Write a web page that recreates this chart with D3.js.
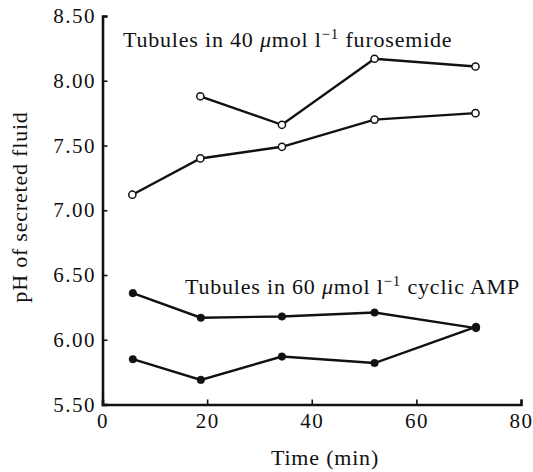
<!DOCTYPE html>
<html><head><meta charset="utf-8">
<script src="https://cdn.jsdelivr.net/npm/d3@7"></script>
<style>body{margin:0;background:#fff}svg{display:block}</style>
</head><body><svg id="c" width="533" height="472"></svg>
<script>
const furoTime1 = [18.7, 34.3, 52, 71.3];
const furoPH1   = [7.88, 7.66, 8.17, 8.11];
const furoTime2 = [5.7, 18.7, 34.3, 52, 71.3];
const furoPH2   = [7.12, 7.40, 7.49, 7.70, 7.75];
const campTime1 = [5.8, 18.8, 34.3, 52, 71.4];
const campPH1   = [6.36, 6.17, 6.18, 6.21, 6.09];
const campTime2 = [5.8, 18.8, 34.3, 52, 71.4];
const campPH2   = [5.85, 5.69, 5.87, 5.82, 6.10];
const yTicks = [5.5, 6.0, 6.5, 7.0, 7.5, 8.0, 8.5];
const xTicks = [0, 20, 40, 60, 80];

const FONT = "'Liberation Serif', 'Times New Roman', serif";
const svg = d3.select("#c");
const x = d3.scaleLinear().domain([0, 80]).range([102.5, 521]);
const y = d3.scaleLinear().domain([5.5, 8.5]).range([404.5, 16]);

const xAxis = d3.axisBottom(x).tickValues(xTicks).tickSize(-5).tickSizeOuter(-5).tickPadding(9).tickFormat(d3.format("d"));
const yAxis = d3.axisLeft(y).tickValues(yTicks).tickSize(-5).tickSizeOuter(-5).tickPadding(5).tickFormat(d3.format(".2f"));

const gx = svg.append("g").attr("transform", `translate(0,${y(5.5)})`).call(xAxis);
const gy = svg.append("g").attr("transform", `translate(${x(0)},0)`).call(yAxis);
[gx, gy].forEach(g => {
  g.attr("font-family", FONT).attr("font-size", 21);
  g.select(".domain").attr("stroke", "#111").attr("stroke-width", 2.6);
  g.selectAll(".tick line").attr("stroke", "#111").attr("stroke-width", 1.6);
  g.selectAll(".tick text").attr("fill", "#111").style("letter-spacing", "1.5px");
});
gy.selectAll(".tick text").attr("dx", "-1.5px");

svg.append("text").attr("transform", `translate(27,207) rotate(-90)`)
  .attr("text-anchor", "middle").attr("font-family", FONT).attr("font-size", 22).attr("fill", "#111")
  .style("letter-spacing", "0.8px").text("pH of secreted fluid");
svg.append("text").attr("x", 325).attr("y", 465).attr("text-anchor", "middle")
  .attr("font-family", FONT).attr("font-size", 22).attr("fill", "#111").style("letter-spacing", "0.8px").text("Time (min)");

function label(x0, y0, num, rest) {
  const t = svg.append("text").attr("x", x0).attr("y", y0).attr("font-family", FONT)
    .attr("font-size", 22).attr("fill", "#111").style("letter-spacing", "0.8px");
  t.append("tspan").text("Tubules in " + num + " ");
  t.append("tspan").attr("font-style", "italic").text("μ");
  t.append("tspan").text("mol l");
  t.append("tspan").attr("dy", -8).attr("font-size", 15).text("−1");
  t.append("tspan").attr("dy", 8).text(" " + rest);
}
label(123, 47, "40", "furosemide");
label(185, 294, "60", "cyclic AMP");

const line = d3.line().x(d => x(d[0])).y(d => y(d[1]));
function series(ts, vs, open) {
  const pts = ts.map((t, i) => [t, vs[i]]);
  svg.append("path").datum(pts).attr("d", line).attr("fill", "none").attr("stroke", "#111").attr("stroke-width", 2.4);
  svg.selectAll(null).data(pts).enter().append("circle")
    .attr("cx", d => x(d[0])).attr("cy", d => y(d[1])).attr("r", open ? 3.6 : 3.8)
    .attr("fill", open ? "#fff" : "#111").attr("stroke", "#111").attr("stroke-width", open ? 1.5 : 0.5);
}
series(furoTime1, furoPH1, true);
series(furoTime2, furoPH2, true);
series(campTime1, campPH1, false);
series(campTime2, campPH2, false);
</script></body></html>
